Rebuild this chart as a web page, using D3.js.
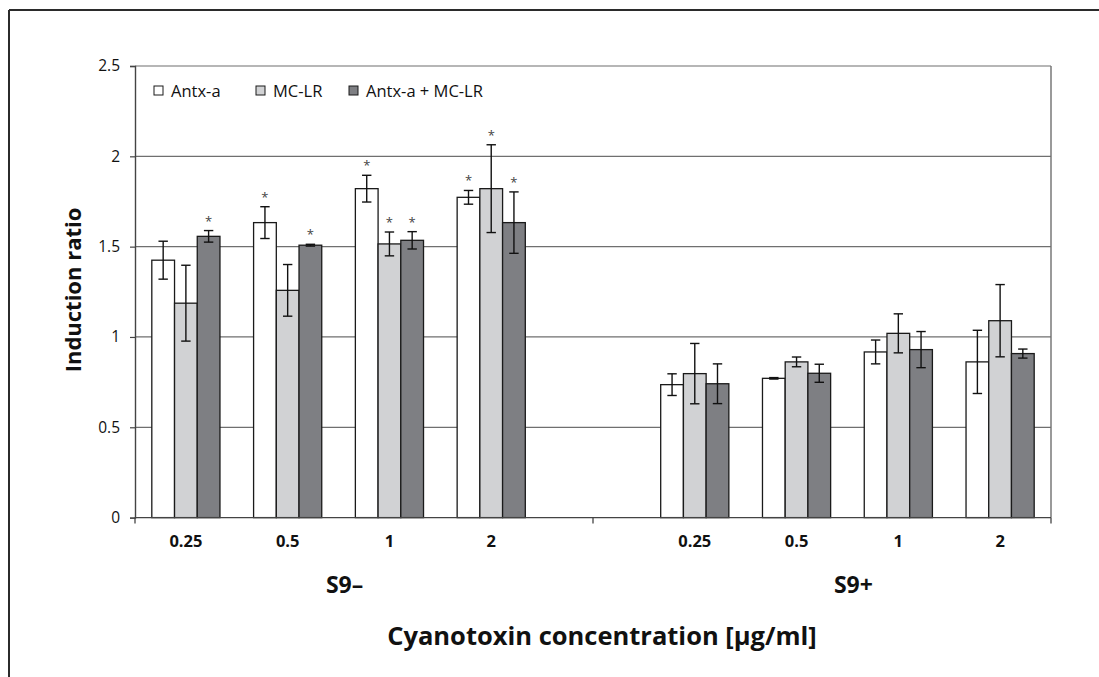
<!DOCTYPE html>
<html>
<head>
    <meta charset="UTF-8">
    <title>Induction ratio</title>
    <script src="https://cdnjs.cloudflare.com/ajax/libs/d3/7.8.5/d3.min.js"></script>
    <style>
        body { margin: 0; background: #fff; }
        svg text { font-family: "Open Sans", "Noto Sans", sans-serif; fill: #111; }
    </style>
</head>
<body>
<div id="chart"></div>
<script>
    // slots on the category axis, "gap" is the empty one between S9- and S9+
    var slots = ["S9-|0.25", "S9-|0.5", "S9-|1", "S9-|2", "gap", "S9+|0.25", "S9+|0.5", "S9+|1", "S9+|2"];
    var slotLabels = ["0.25", "0.5", "1", "2", "", "0.25", "0.5", "1", "2"];
    var groups = ["S9\u2013", "S9+"];
    var series = ["Antx-a", "MC-LR", "Antx-a + MC-LR"];
    var seriesColors = ["#ffffff", "#d1d2d4", "#7e7f83"];
    var cats = ["S9-|0.25", "S9-|0.5", "S9-|1", "S9-|2", "S9+|0.25", "S9+|0.5", "S9+|1", "S9+|2"];

    var antx = [1.425, 1.633, 1.821, 1.773, 0.736, 0.771, 0.917, 0.862];
    var antxErr = [0.105, 0.088, 0.074, 0.038, 0.06, 0.004, 0.066, 0.175];
    var antxStar = [false, true, true, true, false, false, false, false];

    var mclr = [1.187, 1.258, 1.515, 1.821, 0.797, 0.862, 1.020, 1.090];
    var mclrErr = [0.21, 0.143, 0.066, 0.243, 0.167, 0.027, 0.108, 0.20];
    var mclrStar = [false, false, true, true, false, false, false, false];

    var both = [1.557, 1.508, 1.535, 1.633, 0.741, 0.799, 0.930, 0.908];
    var bothErr = [0.032, 0.005, 0.048, 0.17, 0.11, 0.05, 0.10, 0.025];
    var bothStar = [true, true, true, true, false, false, false, false];

    var yTicks = [0, 0.5, 1, 1.5, 2, 2.5];

    var W = 1099, H = 677;
    var pLeft = 135, pRight = 1051, pTop = 66, pBottom = 517.6;

    var svg = d3.select("#chart").append("svg").attr("width", W).attr("height", H);

    // outer frame (only top and left edges show)
    svg.append("line").attr("x1", 9).attr("y1", 10).attr("x2", W).attr("y2", 10)
        .attr("stroke", "#2b2b2b").attr("stroke-width", 2);
    svg.append("line").attr("x1", 9).attr("y1", 10).attr("x2", 9).attr("y2", H)
        .attr("stroke", "#2b2b2b").attr("stroke-width", 2);

    var y = d3.scaleLinear().domain([0, 2.5]).range([pBottom, pTop]);
    var x0 = d3.scaleBand().domain(slots).range([pLeft, pRight]).padding(0);
    var x1 = d3.scaleBand().domain(series).range([0, x0.bandwidth()]).paddingInner(0).paddingOuter(0.74);

    // gridlines
    svg.append("g").selectAll("line").data(yTicks.filter(function(d) { return d > 0; }))
        .enter().append("line")
        .attr("x1", pLeft).attr("x2", pRight)
        .attr("y1", function(d) { return y(d); }).attr("y2", function(d) { return y(d); })
        .attr("stroke", "#6f6f6f").attr("stroke-width", 1.2);
    svg.append("line").attr("x1", pRight).attr("x2", pRight).attr("y1", pTop).attr("y2", pBottom)
        .attr("stroke", "#6f6f6f").attr("stroke-width", 1.4);

    // y axis
    var yAxis = svg.append("g").attr("transform", "translate(" + pLeft + ",0)")
        .call(d3.axisLeft(y).tickValues(yTicks).tickSize(5).tickPadding(10)
            .tickFormat(function(d) { return d === 0 ? "0" : String(d); }));
    yAxis.select(".domain").attr("stroke", "#444").attr("stroke-width", 1.4);
    yAxis.selectAll(".tick line").attr("stroke", "#444").attr("stroke-width", 1.2);
    yAxis.selectAll("text").style("font-size", "15.5px").style("font-family", "'Open Sans', sans-serif").attr("fill", "#111");

    // bars
    var data = [
        { vals: antx, err: antxErr, star: antxStar },
        { vals: mclr, err: mclrErr, star: mclrStar },
        { vals: both, err: bothErr, star: bothStar }
    ];
    var rows = [];
    data.forEach(function(s, si) {
        cats.forEach(function(c, ci) {
            rows.push({ cat: c, s: series[si], si: si, v: s.vals[ci], e: s.err[ci], star: s.star[ci] });
        });
    });

    var barG = svg.append("g");
    barG.selectAll("rect").data(rows).enter().append("rect")
        .attr("x", function(d) { return x0(d.cat) + x1(d.s); })
        .attr("y", function(d) { return y(d.v); })
        .attr("width", x1.bandwidth())
        .attr("height", function(d) { return y(0) - y(d.v); })
        .attr("fill", function(d) { return seriesColors[d.si]; })
        .attr("stroke", "#1a1a1a").attr("stroke-width", 1.3);

    // x axis line with ticks at the edges and between the two groups
    svg.append("line").attr("x1", pLeft).attr("x2", pRight).attr("y1", y(0)).attr("y2", y(0))
        .attr("stroke", "#444").attr("stroke-width", 1.4);
    var xTicks = [pLeft, x0("gap") + x0.bandwidth() / 2, pRight];
    svg.append("g").selectAll("line").data(xTicks).enter().append("line")
        .attr("x1", function(d) { return d; }).attr("x2", function(d) { return d; })
        .attr("y1", y(0)).attr("y2", y(0) + 6)
        .attr("stroke", "#444").attr("stroke-width", 1.3);

    // error bars
    var errG = svg.append("g").attr("stroke", "#111").attr("stroke-width", 1.4);
    rows.forEach(function(d) {
        var cx = x0(d.cat) + x1(d.s) + x1.bandwidth() / 2;
        var yt = y(d.v + d.e), yb = y(d.v - d.e);
        errG.append("line").attr("x1", cx).attr("x2", cx).attr("y1", yt).attr("y2", yb);
        errG.append("line").attr("x1", cx - 4.7).attr("x2", cx + 4.7).attr("y1", yt).attr("y2", yt);
        errG.append("line").attr("x1", cx - 4.7).attr("x2", cx + 4.7).attr("y1", yb).attr("y2", yb);
    });

    // significance stars
    svg.append("g").selectAll("text").data(rows.filter(function(d) { return d.star; }))
        .enter().append("text")
        .attr("x", function(d) { return x0(d.cat) + x1(d.s) + x1.bandwidth() / 2; })
        .attr("y", function(d) { return y(d.v + d.e) - 5; })
        .attr("text-anchor", "middle")
        .style("font-size", "13px")
        .style("fill", "#444")
        .text("*");

    // category labels
    svg.append("g").selectAll("text").data(slots).enter().append("text")
        .attr("x", function(d) { return x0(d) + x0.bandwidth() / 2; })
        .attr("y", 547)
        .attr("text-anchor", "middle")
        .style("font-size", "16.5px").style("font-weight", "bold")
        .text(function(d, i) { return slotLabels[i]; });

    // group labels
    var groupSlots = [cats.slice(0, 4), cats.slice(4)];
    svg.append("g").selectAll("text").data(groups).enter().append("text")
        .attr("x", function(d, i) {
            var a = groupSlots[i];
            return (x0(a[0]) + x0(a[a.length - 1]) + x0.bandwidth()) / 2 + 6;
        })
        .attr("y", 593)
        .attr("text-anchor", "middle")
        .style("font-size", "23px").style("font-weight", "bold")
        .text(function(d) { return d; });

    // axis titles
    svg.append("text").attr("x", 602).attr("y", 645)
        .attr("text-anchor", "middle")
        .style("font-size", "25.5px").style("font-weight", "bold")
        .text("Cyanotoxin concentration [\u00b5g/ml]");

    svg.append("text").attr("transform", "translate(81,290) rotate(-90)")
        .attr("text-anchor", "middle")
        .style("font-size", "22px").style("font-weight", "bold")
        .text("Induction ratio");

    // legend
    var legX = [154, 256, 349];
    var leg = svg.append("g").selectAll("g").data(series).enter().append("g")
        .attr("transform", function(d, i) { return "translate(" + legX[i] + ",86)"; });
    leg.append("rect").attr("width", 9).attr("height", 9)
        .attr("fill", function(d, i) { return seriesColors[i]; })
        .attr("stroke", "#1a1a1a").attr("stroke-width", 1);
    leg.append("text").attr("x", 17).attr("y", 11)
        .style("font-size", "16.5px")
        .text(function(d) { return d; });
</script>
</body>
</html>
